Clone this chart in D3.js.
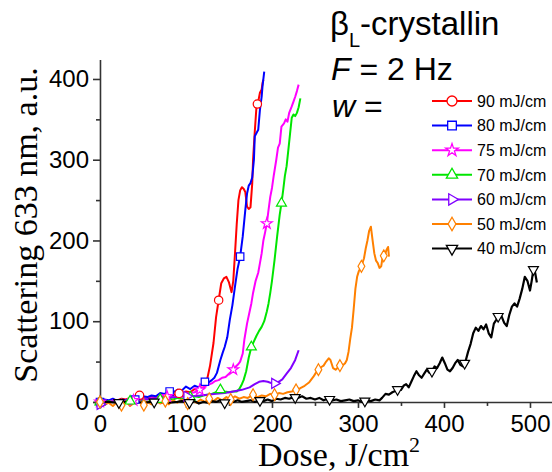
<!DOCTYPE html>
<html><head><meta charset="utf-8">
<script src="https://cdn.jsdelivr.net/npm/d3@7"></script>
<style>body{margin:0;background:#fff}svg{display:block}</style>
</head><body>
<svg id="c" width="552" height="472"></svg>
<script>
// ---- data (dose J/cm^2, scattering a.u.) ----
const xMajorTicks = [0, 100, 200, 300, 400, 500];
const xMinorTicks = [50, 150, 250, 350, 450];
const yMajorTicks = [0, 100, 200, 300, 400];
const yMinorTicks = [50, 150, 250, 350];

const labels = ["90 mJ/cm", "80 mJ/cm", "75 mJ/cm", "70 mJ/cm", "60 mJ/cm", "50 mJ/cm", "40 mJ/cm"];

const s90 = [[0,0],[5,2],[10,1],[15,3],[20,2],[25,4],[30,3],[35,5],[40,6],[45,9],[50,5],[55,4],[60,6],[65,5],[70,7],[75,6],[80,9],[85,8],[90,11],[95,10],[100,13],[105,12],[110,16],[115,14],[118,18],[121,17],[124,25],[128,45],[132,73],[135,105],[138,126],[141,147],[144,153],[147,155],[150,148],[153,136],[155,150],[157,184],[159,220],[161,250],[163,262],[165,266],[167,264],[169,260],[171,242],[173,239],[175,241],[177,270],[178,300],[180,335],[182,366],[184,372],[186,383],[188,387],[189,395],[190,399]];
const s80 = [[0,0],[5,3],[10,2],[15,4],[20,1],[25,3],[30,2],[35,4],[41,3],[46,5],[50,7],[55,6],[60,8],[65,7],[70,11],[75,10],[81,13],[85,12],[90,15],[95,14],[100,19],[105,16],[110,20],[115,18],[118,22],[122,25],[126,24],[130,27],[133,30],[136,36],[140,52],[143,62],[145,68],[148,80],[151,102],[154,120],[157,143],[160,165],[163,180],[166,205],[169,238],[171,258],[173,268],[175,271],[177,278],[179,300],[180,329],[182,333],[184,337],[186,362],[188,378],[189,391],[191,409]];
const s75 = [[0,0],[5,1],[10,0],[15,2],[20,1],[25,2],[30,1],[35,3],[39,2],[45,3],[50,4],[55,3],[60,5],[65,4],[70,6],[75,5],[78,7],[85,6],[90,8],[95,9],[100,10],[105,11],[110,12],[116,15],[120,18],[125,21],[130,23],[134,26],[138,27],[142,30],[146,31],[150,35],[153,38],[155,40],[158,44],[161,47],[163,50],[166,60],[168,78],[171,97],[174,112],[176,122],[178,135],[181,150],[184,160],[186,172],[188,184],[190,200],[192,210],[194,221],[196,238],[198,254],[200,265],[202,280],[205,300],[207,315],[209,320],[211,341],[214,345],[216,350],[218,347],[220,358],[223,366],[225,372],[227,378],[229,385],[231,393]];
const s70 = [[0,0],[5,-1],[10,1],[15,0],[20,2],[25,0],[30,-1],[35,1],[40,0],[45,2],[50,1],[55,0],[60,2],[65,1],[70,3],[75,2],[80,4],[85,3],[90,5],[95,4],[100,5],[105,6],[110,7],[115,6],[120,8],[125,9],[130,10],[135,12],[140,15],[145,13],[150,12],[155,13],[159,13],[162,16],[165,22],[167,27],[170,38],[173,55],[176,68],[179,75],[182,82],[185,88],[188,93],[191,100],[194,112],[196,122],[198,135],[200,150],[203,176],[206,205],[209,232],[211,246],[213,262],[215,280],[217,292],[219,312],[221,332],[223,352],[225,356],[227,354],[229,358],[231,365],[233,376]];
const s60 = [[0,-3],[10,0],[20,1],[30,2],[40,2.5],[50,3],[60,4],[70,5],[80,5.5],[90,6],[100,7],[110,7.5],[116,8],[125,9],[135,10],[145,11],[155,13],[165,15],[174,18],[180,22],[185,25],[190,26],[195,25],[200,23],[203,23],[208,25],[212,28],[217,35],[222,42],[227,52],[231,64]];
const s50 = [[0,0],[5,-4],[10,-1],[15,-5],[20,0],[25,-4],[30,1],[35,-5],[40,-1],[45,2],[51,-4],[55,0],[60,-3],[65,2],[70,-2],[76,1],[80,-3],[85,2],[90,-1],[95,3],[102,-2],[107,2],[112,-1],[117,3],[122,0],[127,4],[132,1],[137,5],[142,2],[147,6],[152,3],[157,7],[162,4],[167,6],[172,5],[178,9],[183,6],[188,8],[193,7],[198,10],[203,9],[208,11],[213,10],[218,12],[223,13],[228,15],[233,17],[238,20],[243,24],[248,31],[251,36],[254,40],[257,43],[260,45],[263,50],[266,54],[268,52],[271,42],[274,40],[277,43],[279,45],[282,45],[285,48],[287,52],[289,62],[291,78],[293,92],[295,115],[297,140],[299,155],[301,162],[304,168],[307,178],[309,190],[311,200],[313,212],[315,217],[317,200],[319,184],[321,175],[323,172],[325,166],[327,168],[329,182],[331,180],[333,188],[335,192],[336,180]];
const s40 = [[0,0],[10,0],[20,-1],[30,0],[40,0],[50,-1],[60,0],[70,0],[80,-1],[90,0],[95,1],[100,0],[105,-1],[110,1],[115,-2],[120,0],[125,-1],[130,1],[135,0],[140,2],[145,-1],[150,1],[155,0],[160,2],[165,0],[170,1],[175,2],[180,0],[185,2],[190,1],[195,3],[200,1],[205,4],[210,3],[215,5],[220,4],[225,6],[230,5],[235,7],[240,4],[245,5],[250,3],[255,5],[260,2],[265,4],[270,2],[275,3],[280,1],[285,2],[290,3],[295,1],[300,2],[305,0],[310,2],[315,1],[320,3],[325,2],[328,5],[332,10],[336,9],[340,12],[344,14],[347,16],[350,15],[353,20],[356,22],[359,18],[362,25],[365,32],[368,38],[371,33],[374,30],[377,35],[380,40],[383,36],[386,38],[389,44],[392,42],[395,48],[398,55],[401,48],[404,40],[407,38],[410,42],[413,48],[416,52],[419,46],[422,44],[425,50],[428,62],[431,72],[434,85],[437,92],[440,88],[443,94],[446,90],[449,96],[452,85],[455,80],[458,97],[461,102],[464,108],[467,106],[470,98],[473,94],[476,108],[479,118],[482,122],[485,118],[488,128],[491,140],[494,155],[497,150],[500,138],[502,150],[504,164],[506,160],[508,148]];

// doses where symbols sit on each curve
const m90 = [0, 46, 92, 138, 183];
const m80 = [0, 41, 81, 122, 163];
const m75 = [0, 39, 78, 116, 155, 194];
const m70 = [0, 35, 70, 105, 140, 176, 211];
const m60 = [0, 101, 203];
const m50 = [0, 25, 51, 76, 102, 127, 152, 178, 203, 228, 254, 279, 304, 330];
const m40 = [22, 63, 104, 145, 186, 227, 267, 308, 346, 386, 424, 463, 504];

const colors = ["#ff0000", "#0000ff", "#ff00ff", "#00e600", "#8000ff", "#ff8000", "#000000"];

// ---- layout ----
const svg = d3.select("#c");
const x = d3.scaleLinear().domain([-8, 527]).range([93.1, 553.2]);
const y = d3.scaleLinear().domain([-7.5, 424]).range([408, 59.6]);

const series = [
  {data: s90, marks: m90, sym: d3.symbolCircle,   size: 55, lsize: 78, rot: 0},
  {data: s80, marks: m80, sym: d3.symbolSquare,   size: 55, lsize: 75, rot: 0},
  {data: s75, marks: m75, sym: d3.symbolStar,     size: 36, lsize: 50, rot: 0},
  {data: s70, marks: m70, sym: d3.symbolTriangle, size: 43, lsize: 55, rot: 0},
  {data: s60, marks: m60, sym: d3.symbolTriangle, size: 43, lsize: 55, rot: 90},
  {data: s50, marks: m50, sym: d3.symbolDiamond,  size: 40, lsize: 52, rot: 0},
  {data: s40, marks: m40, sym: d3.symbolTriangle, size: 43, lsize: 55, rot: 180}
];
series.forEach((s, i) => { s.color = colors[i]; s.label = labels[i]; });

function interp(data, d) {
  for (let i = 1; i < data.length; i++) {
    if (data[i][0] >= d) {
      const [x0, y0] = data[i-1], [x1, y1] = data[i];
      const t = (d - x0) / (x1 - x0);
      return y0 + t * (y1 - y0);
    }
  }
  return data[data.length-1][1];
}

// axes
const axisColor = "#333";
const tickFont = "'Liberation Sans', Arial, sans-serif";
const gx = svg.append("g").attr("transform", `translate(0,${y(0)})`);
gx.call(d3.axisBottom(x).tickValues(xMajorTicks).tickSize(6).tickSizeOuter(0).tickPadding(7).tickFormat(d3.format("d")));
const gxm = svg.append("g").attr("transform", `translate(0,${y(0)})`);
gxm.call(d3.axisBottom(x).tickValues(xMinorTicks).tickSize(4).tickSizeOuter(0).tickFormat(""));
gxm.select(".domain").remove();

const gy = svg.append("g").attr("transform", `translate(${x(0)},0)`);
gy.call(d3.axisLeft(y).tickValues(yMajorTicks).tickSize(7).tickSizeOuter(0).tickPadding(4).tickFormat(d3.format("d")));
const gym = svg.append("g").attr("transform", `translate(${x(0)},0)`);
gym.call(d3.axisLeft(y).tickValues(yMinorTicks).tickSize(4).tickSizeOuter(0).tickFormat(""));
gym.select(".domain").remove();

[gx, gxm, gy, gym].forEach(g => {
  g.selectAll(".domain").attr("stroke", axisColor).attr("stroke-width", 1.6);
  g.selectAll(".tick line").attr("stroke", axisColor).attr("stroke-width", 1.6);
  g.selectAll(".tick text").attr("fill", "#000").style("font-family", tickFont).style("font-size", "24px");
});

// lines
const line = d3.line().x(d => x(d[0])).y(d => y(d[1]));
const plot = svg.append("g");
series.forEach(s => {
  plot.append("path").datum(s.data).attr("d", line)
    .attr("fill", "none").attr("stroke", s.color)
    .attr("stroke-width", s.color === "#000000" ? 2.2 : 2)
    .attr("stroke-linejoin", "round");
});
series.forEach(s => {
  const sym = d3.symbol().type(s.sym).size(s.size);
  plot.selectAll(null).data(s.marks).enter().append("path")
    .attr("d", sym)
    .attr("transform", d => `translate(${x(d)},${y(interp(s.data, d))}) rotate(${s.rot})`)
    .attr("fill", "#fff").attr("stroke", s.color).attr("stroke-width", 1.2);
});

// legend
const legY0 = 101, legDy = 24.6;
const leg = svg.append("g");
series.forEach((s, i) => {
  const yy = legY0 + i * legDy;
  leg.append("line").attr("x1", 432).attr("x2", 472).attr("y1", yy).attr("y2", yy)
    .attr("stroke", s.color).attr("stroke-width", 2);
  leg.append("path").attr("d", d3.symbol().type(s.sym).size(s.lsize))
    .attr("transform", `translate(452,${yy}) rotate(${s.rot})`)
    .attr("fill", "#fff").attr("stroke", s.color).attr("stroke-width", 1.3);
  leg.append("text").attr("x", 477).attr("y", yy).attr("dy", "0.36em")
    .style("font-family", tickFont).style("font-size", "16px").text(s.label);
});

// annotation
const ann = svg.append("g").style("font-family", tickFont).style("font-size", "32px");
const t1 = ann.append("text").attr("x", 330).attr("y", 35).style("font-size", "33px");
t1.append("tspan").text("β");
t1.append("tspan").attr("dy", 12).style("font-size", "20px").text("L");
t1.append("tspan").attr("dy", -12).text("-crystallin");
const t2 = ann.append("text").attr("x", 331).attr("y", 80);
t2.append("tspan").style("font-style", "italic").text("F");
t2.append("tspan").text(" = 2 Hz");
const t3 = ann.append("text").attr("x", 332).attr("y", 117);
t3.append("tspan").style("font-style", "italic").text("w");
t3.append("tspan").text(" =");

// axis titles
const serif = "'Liberation Serif', 'Times New Roman', serif";
svg.append("text").attr("transform", "translate(37,225) rotate(-90)")
  .attr("text-anchor", "middle").style("font-family", serif).style("font-size", "34px")
  .text("Scattering 633 nm, a.u.");
const xt = svg.append("text").attr("x", 258).attr("y", 466)
  .style("font-family", serif).style("font-size", "34px");
xt.append("tspan").text("Dose, J/cm");
xt.append("tspan").attr("dy", -14).style("font-size", "22px").text("2");
</script>
</body></html>
